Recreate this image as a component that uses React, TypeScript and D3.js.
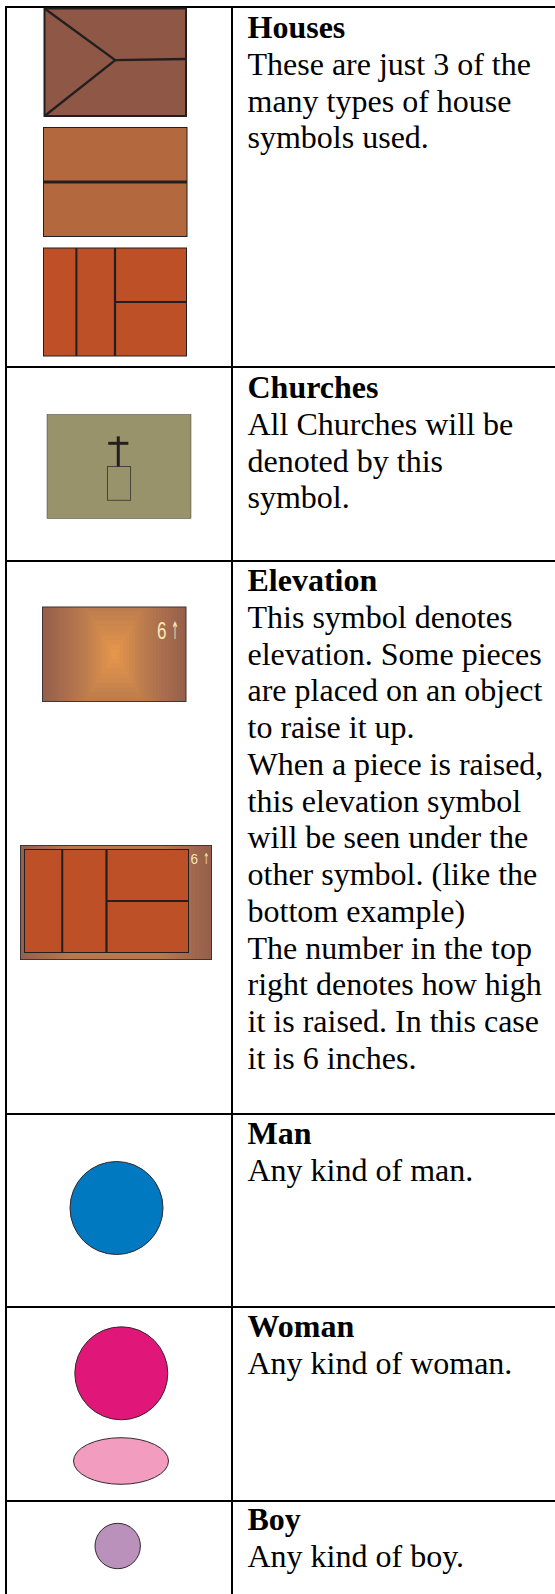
import React, { useEffect, useRef } from "react";
import * as d3 from "d3";

const WIDTH = 555;
const HEIGHT = 1594;

const titles = ["Houses", "Churches", "Elevation", "Man", "Woman", "Boy"];
const descriptions = [
  ["These are just 3 of the", "many types of house", "symbols used."],
  ["All Churches will be", "denoted by this", "symbol."],
  [
    "This symbol denotes",
    "elevation. Some pieces",
    "are placed on an object",
    "to raise it up.",
    "When a piece is raised,",
    "this elevation symbol",
    "will be seen under the",
    "other symbol. (like the",
    "bottom example)",
    "The number in the top",
    "right denotes how high",
    "it is raised. In this case",
    "it is 6 inches.",
  ],
  ["Any kind of man."],
  ["Any kind of woman."],
  ["Any kind of boy."],
];
const titleBaselines = [38, 398, 591, 1144, 1337, 1530];
const rowLines = [7, 367, 561, 1114, 1307, 1501];
const columnLines = [6, 232];

const elevationDigit = "6";
const elevationArrow = "↑";
const glowStops = [72, 30, 0];
const glowColors = ["#96604d", "#bc7c4e", "#e9994a"];

const App = () => {
  const ref = useRef<SVGSVGElement | null>(null);

  useEffect(() => {
    drawChart();
    //eslint-disable-next-line
  }, []);

  function drawChart() {
    const svg = d3.select(ref.current);
    svg.selectAll("*").remove();

    const ink = "#231f20";
    const line = d3.line();

    // table grid
    svg
      .selectAll("line.row")
      .data(rowLines)
      .join("line")
      .attr("x1", columnLines[0] - 1)
      .attr("x2", WIDTH)
      .attr("y1", (d) => d)
      .attr("y2", (d) => d)
      .attr("stroke", "#000")
      .attr("stroke-width", 2);

    svg
      .selectAll("line.col")
      .data(columnLines)
      .join("line")
      .attr("x1", (d) => d)
      .attr("x2", (d) => d)
      .attr("y1", rowLines[0] - 1)
      .attr("y2", HEIGHT)
      .attr("stroke", "#000")
      .attr("stroke-width", 2);

    // a symbol box: fill + scales from the unit square into the box
    function box(x0, y0, x1, y1, fill, strokeWidth = 1) {
      svg
        .append("rect")
        .attr("x", x0)
        .attr("y", y0)
        .attr("width", x1 - x0)
        .attr("height", y1 - y0)
        .attr("fill", fill)
        .attr("stroke", ink)
        .attr("stroke-width", strokeWidth);
      return {
        x: d3.scaleLinear().domain([0, 1]).range([x0, x1]),
        y: d3.scaleLinear().domain([0, 1]).range([y0, y1]),
      };
    }

    function wall(s, points, width) {
      svg
        .append("path")
        .attr("d", line(points.map(([a, b]) => [s.x(a), s.y(b)])))
        .attr("fill", "none")
        .attr("stroke", ink)
        .attr("stroke-width", width);
    }

    function splitHouse(x0, y0, x1, y1) {
      const s = box(x0, y0, x1, y1, "#bd5026");
      wall(s, [[0.23, 0], [0.23, 1]], 2);
      wall(s, [[0.5, 0], [0.5, 1]], 2.2);
      wall(s, [[0.5, 0.5], [1, 0.5]], 2);
    }

    // house 1
    const h1 = box(44.5, 8.5, 186, 116, "#8f5745", 2);
    wall(h1, [[0, 0], [0.5, 0.48], [1, 0.47]], 2.4);
    wall(h1, [[0, 1], [0.5, 0.48]], 2.4);

    // house 2
    const h2 = box(43.5, 127.5, 187, 236.5, "#b4683d");
    wall(h2, [[0, 0.5], [1, 0.5]], 3);

    // house 3
    splitHouse(43.5, 248, 186.5, 356);

    // church
    const church = box(47, 414.5, 191, 518.5, "#99936b", 0.4);
    svg
      .append("rect")
      .attr("x", church.x(0.42))
      .attr("y", church.y(0.5))
      .attr("width", church.x(0.58) - church.x(0.42))
      .attr("height", church.y(0.825) - church.y(0.5))
      .attr("fill", "none")
      .attr("stroke", "#47453a")
      .attr("stroke-width", 1);
    wall(church, [[0.495, 0.21], [0.495, 0.5]], 3);
    wall(church, [[0.425, 0.277], [0.565, 0.277]], 3);

    // elevation gradient, stepped rings like the original export
    const glowColor = d3
      .scaleLinear<string>()
      .domain(glowStops)
      .range(glowColors);

    function elevation(id, x0, y0, x1, y1) {
      const cx = (x0 + x1) / 2;
      const cy = (y0 + y1) / 2;
      const scaleW = (x1 - x0) / 144;
      svg
        .append("clipPath")
        .attr("id", id)
        .append("rect")
        .attr("x", x0)
        .attr("y", y0)
        .attr("width", x1 - x0)
        .attr("height", y1 - y0);
      const g = svg.append("g").attr("clip-path", `url(#${id})`);
      g.selectAll("rect")
        .data(d3.range(72, 0, -3))
        .join("rect")
        .attr("x", (d) => cx - d * scaleW)
        .attr("y", (d) => cy - d * 1.6)
        .attr("width", (d) => 2 * d * scaleW)
        .attr("height", (d) => 3.2 * d)
        .attr("fill", (d) => glowColor(d));
      svg
        .append("rect")
        .attr("x", x0)
        .attr("y", y0)
        .attr("width", x1 - x0)
        .attr("height", y1 - y0)
        .attr("fill", "none")
        .attr("stroke", "#3f3532")
        .attr("stroke-width", 1);
    }

    function elevationText(x, arrowX, y, size, digitLen, arrowLen) {
      svg
        .append("text")
        .attr("x", x)
        .attr("y", y)
        .attr("textLength", digitLen)
        .attr("lengthAdjust", "spacingAndGlyphs")
        .attr("font-family", "Liberation Sans")
        .attr("font-size", size)
        .attr("fill", "#f6e7b4")
        .text(elevationDigit);
      svg
        .append("text")
        .attr("x", arrowX)
        .attr("y", y)
        .attr("textLength", arrowLen)
        .attr("lengthAdjust", "spacingAndGlyphs")
        .attr("font-family", "DejaVu Sans")
        .attr("font-size", size)
        .attr("fill", "#f6e7b4")
        .text(elevationArrow);
    }

    elevation("glow-a", 42.5, 607, 186, 701.5);
    elevationText(157, 171, 639, 24, 9.5, 8);

    elevation("glow-b", 20.5, 845.5, 211.5, 959.5);
    splitHouse(24.5, 849.5, 188.5, 952.5);
    elevationText(190.5, 203, 864, 15, 7.5, 6.5);

    // people
    const people = [
      { cx: 116.5, cy: 1208, rx: 46.5, ry: 46.5, fill: "#0079c1" },
      { cx: 121.3, cy: 1373.3, rx: 46.5, ry: 46.5, fill: "#e01678" },
      { cx: 121, cy: 1461, rx: 47.5, ry: 23.3, fill: "#f29cbf" },
      { cx: 117.7, cy: 1546, rx: 22.7, ry: 22.7, fill: "#b991bb" },
    ];
    svg
      .selectAll("ellipse")
      .data(people)
      .join("ellipse")
      .attr("cx", (d) => d.cx)
      .attr("cy", (d) => d.cy)
      .attr("rx", (d) => d.rx)
      .attr("ry", (d) => d.ry)
      .attr("fill", (d) => d.fill)
      .attr("stroke", "#33292c")
      .attr("stroke-width", 1);

    // right column text
    const lineHeight = 36.75;
    const rows = svg
      .selectAll("g.row")
      .data(titles)
      .join("g")
      .attr("font-family", "Liberation Serif")
      .attr("font-size", 32)
      .attr("fill", "#000");

    rows
      .append("text")
      .attr("x", 247.5)
      .attr("y", (_, i) => titleBaselines[i])
      .attr("font-weight", "bold")
      .text((d) => d);

    rows.each(function (_, i) {
      d3.select(this)
        .selectAll("text.body")
        .data(descriptions[i])
        .join("text")
        .attr("class", "body")
        .attr("x", 247.5)
        .attr("y", (_, j) => titleBaselines[i] + (j + 1) * lineHeight)
        .text((d) => d);
    });
  }

  return (
    <svg
      ref={ref}
      width={WIDTH}
      height={HEIGHT}
      style={{ position: "absolute", left: 0, top: 0, display: "block" }}
    />
  );
};

export default App;
